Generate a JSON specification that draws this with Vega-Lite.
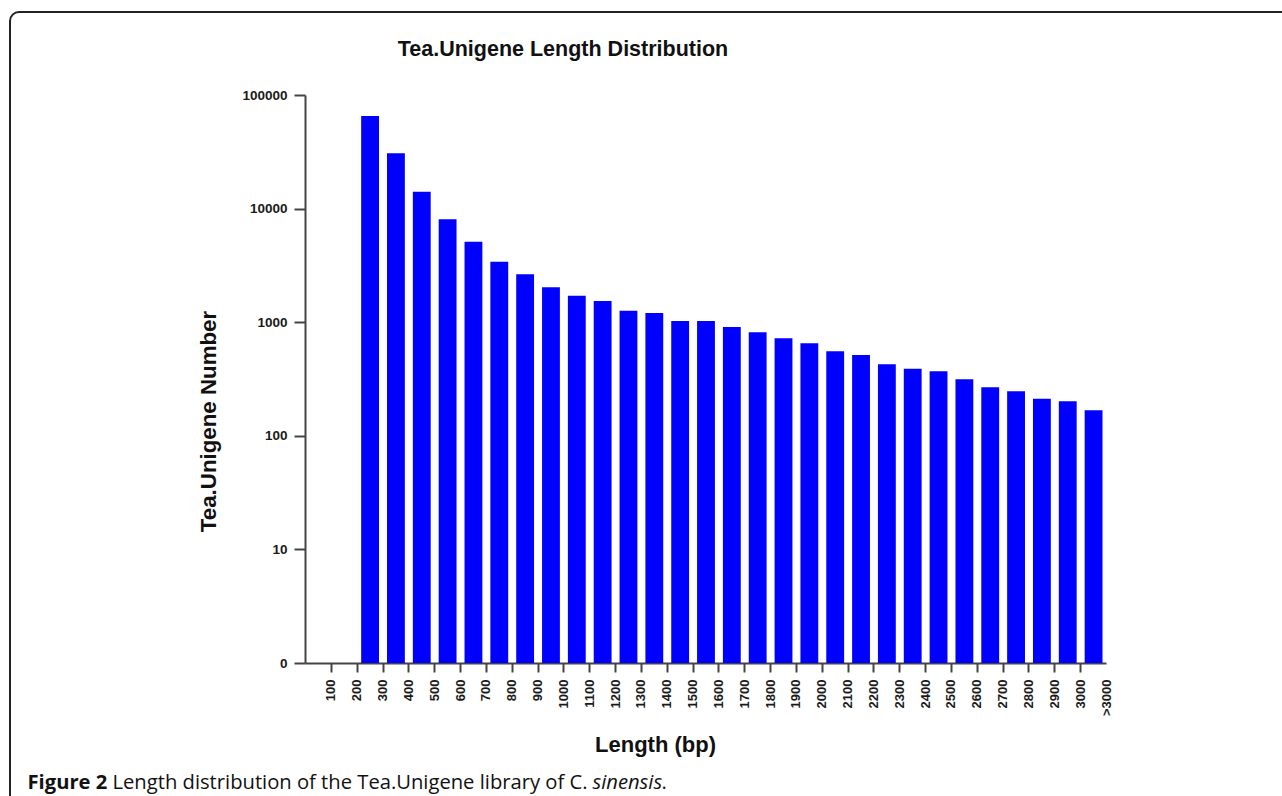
{
  "$schema": "https://vega.github.io/schema/vega-lite/v6.json",
  "autosize": {"type": "none"},
  "padding": {"left": 10, "top": 12, "right": -10, "bottom": -10},
  "width": 1282,
  "height": 794,
  "background": "white",
  "config": {
    "view": {"stroke": "#222222", "strokeWidth": 2, "cornerRadius": 9},
    "axis": {"grid": false}
  },
  "title": {
    "text": "Tea.Unigene Length Distribution",
    "frame": "group",
    "anchor": "middle",
    "orient": "top",
    "offset": -65,
    "dx": -88,
    "baseline": "alphabetic",
    "font": "Liberation Sans Narrow, Arial Narrow, Liberation Sans, Arial, sans-serif",
    "fontSize": 21.5,
    "fontWeight": "bold",
    "color": "#111111"
  },
  "data": {
    "values": [
      {"start": 200, "end": 300, "count": 65300},
      {"start": 300, "end": 400, "count": 30700},
      {"start": 400, "end": 500, "count": 14100},
      {"start": 500, "end": 600, "count": 8050},
      {"start": 600, "end": 700, "count": 5110},
      {"start": 700, "end": 800, "count": 3410},
      {"start": 800, "end": 900, "count": 2640},
      {"start": 900, "end": 1000, "count": 2030},
      {"start": 1000, "end": 1100, "count": 1710},
      {"start": 1100, "end": 1200, "count": 1540},
      {"start": 1200, "end": 1300, "count": 1260},
      {"start": 1300, "end": 1400, "count": 1205},
      {"start": 1400, "end": 1500, "count": 1025},
      {"start": 1500, "end": 1600, "count": 1025},
      {"start": 1600, "end": 1700, "count": 907},
      {"start": 1700, "end": 1800, "count": 815},
      {"start": 1800, "end": 1900, "count": 721},
      {"start": 1900, "end": 2000, "count": 652},
      {"start": 2000, "end": 2100, "count": 554},
      {"start": 2100, "end": 2200, "count": 514},
      {"start": 2200, "end": 2300, "count": 426},
      {"start": 2300, "end": 2400, "count": 390},
      {"start": 2400, "end": 2500, "count": 370},
      {"start": 2500, "end": 2600, "count": 314},
      {"start": 2600, "end": 2700, "count": 267},
      {"start": 2700, "end": 2800, "count": 247},
      {"start": 2800, "end": 2900, "count": 212},
      {"start": 2900, "end": 3000, "count": 201},
      {"start": 3000, "end": 3100, "count": 168}
    ]
  },
  "layer": [
    {
      "mark": {"type": "bar", "color": "#0000ff", "binSpacing": 8},
      "encoding": {
        "x": {
          "field": "start",
          "type": "quantitative",
          "bin": {"binned": true},
          "scale": {"domain": [0, 3100], "range": [295, 1096], "nice": false, "zero": false},
          "axis": {
            "orient": "bottom",
            "offset": -143,
            "values": [100, 200, 300, 400, 500, 600, 700, 800, 900, 1000, 1100, 1200, 1300, 1400, 1500, 1600, 1700, 1800, 1900, 2000, 2100, 2200, 2300, 2400, 2500, 2600, 2700, 2800, 2900, 3000, 3100],
            "format": "d",
            "labelExpr": "datum.value == 3100 ? '>3000' : datum.label",
            "labelAngle": -90,
            "labelAlign": "right",
            "labelBaseline": "middle",
            "labelFont": "Liberation Sans, Arial, sans-serif",
            "labelFontSize": 13,
            "labelFontWeight": "bold",
            "labelColor": "#1a1a1a",
            "labelPadding": 7,
            "labelFlush": false,
            "labelOverlap": false,
            "tickSize": 9,
            "tickWidth": 2,
            "tickColor": "#444444",
            "tickOpacity": {"condition": {"test": "datum.value == 3100", "value": 0}, "value": 1},
            "domainColor": "#444444",
            "domainWidth": 2,
            "title": "Length (bp)",
            "titleFont": "Liberation Sans Narrow, Arial Narrow, Liberation Sans, Arial, sans-serif",
            "titleFontSize": 22,
            "titleFontWeight": "bold",
            "titleColor": "#111111",
            "titleX": 645,
            "titleY": 88,
            "titleAlign": "center",
            "titleBaseline": "alphabetic"
          }
        },
        "x2": {"field": "end"},
        "y": {
          "field": "count",
          "type": "quantitative",
          "scale": {"type": "log", "domain": [1, 100000], "range": [651, 83], "nice": false},
          "axis": {
            "orient": "left",
            "offset": -295,
            "values": [1, 10, 100, 1000, 10000, 100000],
            "labelExpr": "datum.value == 1 ? '0' : format(datum.value, 'd')",
            "labelFont": "Liberation Sans, Arial, sans-serif",
            "labelFontSize": 13.5,
            "labelFontWeight": "bold",
            "labelColor": "#1a1a1a",
            "labelPadding": 7,
            "tickSize": 11,
            "tickWidth": 2,
            "tickColor": "#444444",
            "domainColor": "#444444",
            "domainWidth": 2,
            "title": "Tea.Unigene Number",
            "titleFont": "Liberation Sans Narrow, Arial Narrow, Liberation Sans, Arial, sans-serif",
            "titleFontSize": 22.3,
            "titleFontWeight": "bold",
            "titleColor": "#111111",
            "titleAngle": -90,
            "titleX": -97,
            "titleY": 409,
            "titleAlign": "center",
            "titleBaseline": "middle"
          }
        },
        "y2": {"datum": 1}
      }
    },
    {
      "mark": {"type": "point", "opacity": 0},
      "encoding": {
        "x": {
          "field": "start",
          "type": "quantitative",
          "axis": {
            "orient": "bottom", "offset": 0, "domain": false, "ticks": false, "labels": false,
            "title": "Figure 2",
            "titleFont": "Open Sans, sans-serif", "titleFontSize": 20.2, "titleFontWeight": "bold", "titleColor": "#111111",
            "titleX": 17, "titleY": -18, "titleAlign": "left", "titleBaseline": "alphabetic"
          }
        }
      }
    },
    {
      "mark": {"type": "point", "opacity": 0},
      "encoding": {
        "x": {
          "field": "end",
          "type": "quantitative",
          "axis": {
            "orient": "bottom", "offset": 0, "domain": false, "ticks": false, "labels": false,
            "title": "Length distribution of the Tea.Unigene library of C.",
            "titleFont": "Open Sans, sans-serif", "titleFontSize": 20.2, "titleFontWeight": "normal", "titleColor": "#111111",
            "titleX": 102, "titleY": -18, "titleAlign": "left", "titleBaseline": "alphabetic"
          }
        }
      }
    },
    {
      "mark": {"type": "point", "opacity": 0},
      "encoding": {
        "x": {
          "field": "count",
          "type": "quantitative",
          "axis": {
            "orient": "bottom", "offset": 0, "domain": false, "ticks": false, "labels": false,
            "title": "sinensis",
            "titleFont": "Open Sans, sans-serif", "titleFontSize": 20.2, "titleFontWeight": "normal", "titleFontStyle": "italic", "titleColor": "#111111",
            "titleX": 582, "titleY": -18, "titleAlign": "left", "titleBaseline": "alphabetic"
          }
        }
      }
    },
    {
      "mark": {"type": "point", "opacity": 0},
      "encoding": {
        "x": {
          "field": "start",
          "type": "quantitative",
          "axis": {
            "orient": "bottom", "offset": 0, "domain": false, "ticks": false, "labels": false,
            "title": ".",
            "titleFont": "Open Sans, sans-serif", "titleFontSize": 20.2, "titleFontWeight": "normal", "titleColor": "#111111",
            "titleX": 651, "titleY": -18, "titleAlign": "left", "titleBaseline": "alphabetic"
          }
        }
      }
    }
  ],
  "resolve": {"scale": {"x": "independent"}, "axis": {"x": "independent"}}
}
